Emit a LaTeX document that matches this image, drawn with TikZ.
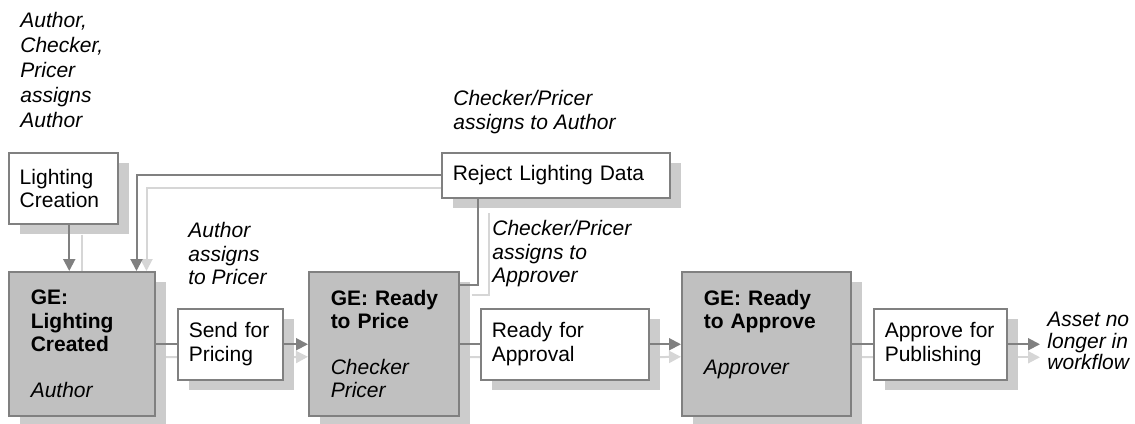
\documentclass[tikz,border=0pt]{standalone}
\usepackage{fontspec}
\setmainfont{Liberation Sans}
\usetikzlibrary{arrows.meta,shadows,backgrounds}
\definecolor{edgegray}{RGB}{128,128,128}
\definecolor{boxgray}{RGB}{192,192,192}
\definecolor{shadegray}{RGB}{204,204,204}
\definecolor{ghostgray}{RGB}{214,214,214}
\begin{document}
\begin{tikzpicture}[x=0.5pt,y=-0.5pt,
	font=\fontsize{10.5pt}{11.75pt}\selectfont,
	task/.style={draw=edgegray,line width=0.75pt,fill=white,anchor=north west,align=left,inner xsep=5.5pt,inner ysep=0pt,minimum height=35.5pt,
		drop shadow={shadow xshift=5.5pt,shadow yshift=-5.25pt,fill=shadegray,opacity=1}},
	state/.style={task,fill=boxgray,inner xsep=11pt,minimum height=72pt},
	note/.style={anchor=north west,align=left,inner sep=0pt,font=\fontsize{10.5pt}{11.75pt}\selectfont\itshape},
	link/.style={draw=edgegray,line width=1pt},
	flow/.style={link,-{Triangle[length=6pt,width=6pt]}},
	ghost/.style={draw=ghostgray,line width=1pt},
	ghostflow/.style={ghost,-{Triangle[length=6pt,width=6pt]}}]
	\useasboundingbox (0,0) rectangle (1135,423);

	\node [task,text width=43.5pt] (1) at (8,152) {Lighting\\Creation};
	\node [state,text width=51pt] (2) at (8,271) {{\bfseries GE:\\Lighting\\Created}\\[11pt]\itshape Author};
	\node [task,text width=41.5pt] (3) at (177,308) {Send for\\Pricing};
	\node [state,text width=53pt] (4) at (308,271) {{\bfseries GE:~Ready\\to~Price}\\[11pt]\itshape Checker\\Pricer};
	\node [task,text width=103pt,minimum height=22.5pt] (5) at (441,152) {Reject Lighting Data};
	\node [task,text width=73pt] (6) at (480,308) {Ready for\\Approval};
	\node [state,text width=62.5pt] (7) at (681,271) {{\bfseries GE:~Ready\\to~Approve}\\[11pt]\itshape Approver\\\mbox{}};
	\node [task,text width=55.5pt] (8) at (873,308) {Approve~for\\Publishing};

	\node [note,inner xsep=3.5pt,font=\fontsize{10.5pt}{10.75pt}\selectfont\itshape] (9) at (1040,312) {Asset no\\longer in\\workflow};
	\node [note,font=\fontsize{10.5pt}{12.5pt}\selectfont\itshape] (10) at (20,12) {Author,\\Checker,\\Pricer\\assigns\\Author};
	\node [note] (11) at (453,90) {Checker/Pricer\\assigns to Author};
	\node [note] (12) at (188,222) {Author\\assigns\\to Pricer};
	\node [note] (13) at (492,220) {Checker/Pricer\\assigns to\\Approver};

	\begin{scope}[on background layer]
		\draw [ghost] ([shift={(19,10)}]1.south) -- ([shift={(19,0)}]1.south |- 2.north);
		\draw [ghost] ([shift={(0,13)}]2.east) -- ([shift={(0,13)}]3.west);
		\draw [ghostflow] ([shift={(0,13)}]3.east) -- ([shift={(0,13)}]4.west);
		\draw [ghost] ([shift={(0,13)}]4.east) -- ([shift={(0,13)}]6.west);
		\draw [ghostflow] ([shift={(0,13)}]6.east) -- ([shift={(0,13)}]7.west);
		\draw [ghost] ([shift={(0,13)}]7.east) -- ([shift={(0,13)}]8.west);
		\draw [ghostflow] ([shift={(0,13)}]8.east) -- ([shift={(0,13)}]8 -| 9.west);
		\draw [ghost] ([shift={(12,24)}]4.north east) -| ([shift={(48,14)}]5.south west);
		\draw [ghostflow] ([shift={(11,13)}]5.west) -| ([shift={(-9,0)}]2.north east);
	\end{scope}

	\draw [flow] ([xshift=3pt]1.south) -- ([xshift=3pt]1.south |- 2.north);
	\draw [link] (2.east |- 3) -- (3);
	\draw [flow] (3) -- (3 -| 4.west);
	\draw [link] (4.east |- 6) -- (6);
	\draw [flow] (6) -- (6 -| 7.west);
	\draw [link] (7.east |- 8) -- (8);
	\draw [flow] (8) -- (8 -| 9.west);
	\draw [link] ([shift={(0,14)}]4.north east) -| ([shift={(37,0)}]5.south west);
	\draw [flow] (5.west) -| ([shift={(-19,0)}]2.north east);
\end{tikzpicture}
\end{document}
